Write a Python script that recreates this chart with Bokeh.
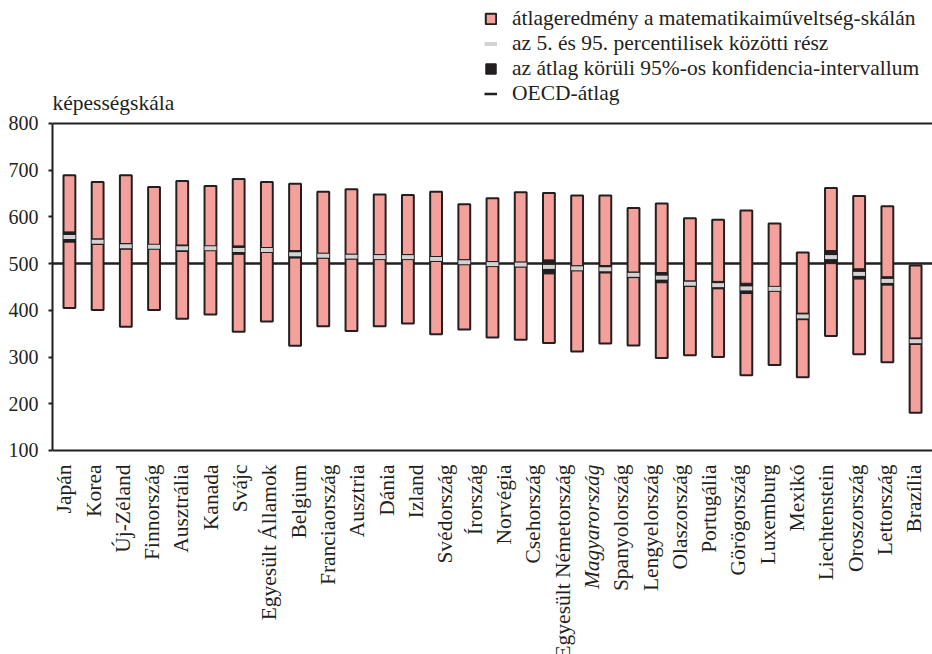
import math
from bokeh.plotting import figure
from bokeh.models import Range1d, FixedTicker, Label, Legend, LegendItem, ColumnDataSource
from bokeh.core.properties import value
from bokeh.embed import file_html
from bokeh.resources import INLINE

# ---- data ----
country_labels = [
    "Japán", "Korea", "Új-Zéland", "Finnország", "Ausztrália", "Kanada", "Svájc",
    "Egyesült Államok", "Belgium", "Franciaország", "Ausztria", "Dánia", "Izland",
    "Svédország", "Írország", "Norvégia", "Csehország", "Egyesült Németország",
    "Magyarország", "Spanyolország", "Lengyelország", "Olaszország", "Portugália",
    "Görögország", "Luxemburg", "Mexikó", "Liechtenstein", "Oroszország",
    "Lettország", "Brazília",
]
label_styles = ["italic" if c == "Magyarország" else "normal" for c in country_labels]
# 31 bars are drawn (one more than labels, as in the original)
mean = [557, 547, 537, 536, 533, 533, 529, 529, 520, 517, 515, 514, 514, 510, 503, 499,
        498, 493, 490, 488, 476, 470, 457, 454, 447, 446, 387, 514, 478, 463, 334]
ci_low = [546, 541, 531, 532, 526, 530, 520, 524, 512, 512, 510, 509, 510, 505, 498, 494,
          493, 478, 485, 480, 470, 459, 451, 446, 436, 442, 380, 500, 467, 454, 327]
ci_high = [568, 553, 543, 540, 540, 536, 538, 534, 528, 522, 520, 519, 518, 515, 508, 504,
           503, 508, 495, 496, 482, 481, 463, 462, 458, 450, 394, 528, 489, 472, 341]
p95 = [689, 675, 689, 664, 677, 666, 681, 675, 671, 654, 659, 648, 647, 654, 627, 640,
       653, 651, 646, 646, 619, 629, 597, 594, 614, 586, 524, 662, 645, 623, 496]
p5 = [405, 401, 365, 401, 382, 391, 354, 376, 324, 366, 356, 366, 372, 349, 359, 342,
      337, 330, 312, 329, 325, 298, 304, 300, 261, 283, 257, 345, 306, 289, 181]
oecd_mean = [500]
y_ticks = [100, 200, 300, 400, 500, 600, 700, 800]

legend_texts = [
    "átlageredmény a matematikaiműveltség-skálán",
    "az 5. és 95. percentilisek közötti rész",
    "az átlag körüli 95%-os konfidencia-intervallum",
    "OECD-átlag",
]
axis_title = "képességskála"

# ---- styles ----
INK = "#231f20"
PINK = "#f4a09b"
GRAY = "#d3d3d3"
FONT = "Liberation Serif"
TXT = "21.5px"

idx = list(range(len(mean)))
bar_w = 0.42
x0 = [i - bar_w / 2 for i in idx]
x1 = [i + bar_w / 2 for i in idx]

# frame covers the canvas except the left axis band; scale keeps 800 -> y123, 100 -> y450
p = figure(width=932, height=654, output_backend="svg", toolbar_location=None,
           x_range=Range1d(-0.6, 30.6), y_range=Range1d(-336.7, 1063.3),
           x_axis_location=None,
           min_border_left=52, min_border_right=0, min_border_top=0, min_border_bottom=0)
p.title.visible = False
p.outline_line_color = None
p.grid.visible = False
p.background_fill_color = "white"
p.border_fill_color = "white"
p.extra_x_ranges = {"lab": Range1d(-0.4, 29.62)}

# frame lines at top (800) and bottom (100)
p.hspan(y=[y_ticks[0], y_ticks[-1]], line_color=INK, line_width=2)

oecd = p.hspan(y=oecd_mean, line_color=INK, line_width=2.5)
bars = p.vbar(x=idx, bottom=p5, top=p95, width=bar_w, fill_color=PINK,
              line_color=INK, line_width=2)
ci = p.vbar(x=idx, bottom=ci_low, top=ci_high, width=bar_w, fill_color=INK,
            line_color=INK, line_width=1)
p.segment(x0=x0, y0=mean, x1=x1, y1=mean, line_color=INK, line_width=6)
mean_r = p.segment(x0=x0, y0=mean, x1=x1, y1=mean, line_color=GRAY, line_width=4)

# y axis
ya = p.yaxis[0]
ya.ticker = FixedTicker(ticks=y_ticks)
ya.bounds = (y_ticks[0], y_ticks[-1])
ya.major_tick_out = 4
ya.major_tick_in = 0
ya.minor_tick_line_color = None
ya.major_tick_line_color = INK
ya.major_tick_line_width = 2
ya.axis_line_color = INK
ya.axis_line_width = 2
ya.major_label_standoff = 10
ya.major_label_text_font = FONT
ya.major_label_text_font_size = "20px"
ya.major_label_text_color = INK

# category labels (30 labels spread evenly over the width)
lab_src = ColumnDataSource(dict(
    x=list(range(len(country_labels))),
    y=[y_ticks[0]] * len(country_labels),
    text=country_labels,
    style=label_styles,
))
p.text(x="x", y="y", text="text", source=lab_src, x_range_name="lab",
       angle=math.pi / 2, text_align="right", text_baseline="middle",
       y_offset=14, text_font=value(FONT), text_font_size=TXT,
       text_font_style="style", text_color=INK)

p.add_layout(Label(x=0, x_units="screen", y=y_ticks[-1], y_offset=20, text=axis_title,
                   text_align="left", text_baseline="alphabetic", text_font=FONT,
                   text_font_size=TXT, text_color=INK))

legend = Legend(items=[
    LegendItem(label=value(legend_texts[0]), renderers=[bars]),
    LegendItem(label=value(legend_texts[1]), renderers=[mean_r]),
    LegendItem(label=value(legend_texts[2]), renderers=[ci]),
    LegendItem(label=value(legend_texts[3]), renderers=[oecd]),
], location=(432, 548), padding=0, margin=0, spacing=-2,
    glyph_width=13, glyph_height=13, label_height=24, label_standoff=15,
    label_text_font=FONT, label_text_font_size=TXT, label_text_color=INK,
    background_fill_alpha=0, border_line_color=None)
p.add_layout(legend)

open("out.html", "w").write(file_html(p, INLINE))
